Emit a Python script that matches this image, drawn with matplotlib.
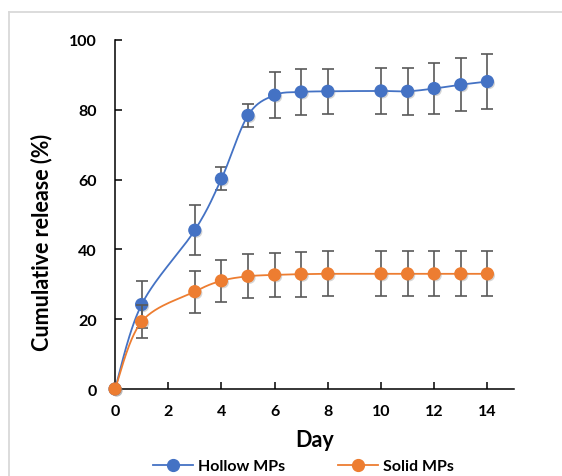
import numpy as np
import matplotlib
matplotlib.use("Agg")
import matplotlib.pyplot as plt
from matplotlib.lines import Line2D
import matplotlib.patheffects as pe

plt.rcParams['font.family'] = ['Lato', 'DejaVu Sans']
plt.rcParams['font.weight'] = 'bold'

days = [0, 1, 3, 4, 5, 6, 7, 8, 10, 11, 12, 13, 14]
hollow = [0, 24.2, 45.5, 60.2, 78.4, 84.2, 85.1, 85.3, 85.4, 85.3, 86.1, 87.2, 88.1]
hollow_err = [0, 6.8, 7.2, 3.3, 3.2, 6.5, 6.5, 6.5, 6.5, 6.7, 7.2, 7.5, 8.0]
solid = [0, 19.3, 27.9, 31.0, 32.3, 32.7, 32.9, 33.0, 33.0, 33.0, 33.0, 33.0, 33.0]
solid_err = [0, 4.7, 6.0, 6.1, 6.3, 6.3, 6.4, 6.4, 6.4, 6.4, 6.4, 6.4, 6.4]
series_names = ["Hollow MPs", "Solid MPs"]
colors = ["#4472C4", "#ED7D31"]
xticks = [0, 2, 4, 6, 8, 10, 12, 14]
yticks = [0, 20, 40, 60, 80, 100]


def smooth(x, y, n=30):
    x = np.asarray(x, float)
    y = np.asarray(y, float)
    P = np.column_stack([x, y])
    out = []
    for i in range(len(P) - 1):
        p0 = P[i - 1] if i > 0 else P[i]
        p1 = P[i]
        p2 = P[i + 1]
        p3 = P[i + 2] if i + 2 < len(P) else P[i + 1]
        c1 = p1 + (p2 - p0) / 6.0
        c2 = p2 - (p3 - p1) / 6.0
        t = np.linspace(0, 1, n)[:, None]
        seg = ((1 - t) ** 3) * p1 + 3 * ((1 - t) ** 2) * t * c1 + 3 * (1 - t) * t ** 2 * c2 + t ** 3 * p2
        out.append(seg if i == 0 else seg[1:])
    s = np.vstack(out)
    return s[:, 0], s[:, 1]


fig = plt.figure(figsize=(5.62, 4.77), dpi=100)
# light frame
fig.add_artist(Line2D([8.5 / 562, 8.5 / 562], [0, 1 - 12.5 / 477], color="#d9d9d9", lw=1.3, transform=fig.transFigure))
fig.add_artist(Line2D([8.5 / 562, 1], [1 - 12.5 / 477, 1 - 12.5 / 477], color="#d9d9d9", lw=1.3, transform=fig.transFigure))

ax = fig.add_axes([115 / 562, 1 - 390 / 477, (514 - 115) / 562, (390 - 41) / 477])

shadow = [pe.SimplePatchShadow(offset=(1.2, -1.2), shadow_rgbFace="#888888", alpha=0.35), pe.Normal()]

for yv, ev, c, name, z in [(hollow, hollow_err, colors[0], series_names[0], 3),
                           (solid, solid_err, colors[1], series_names[1], 4)]:
    ax.errorbar(days, yv, yerr=ev, fmt="none", ecolor="#595959", elinewidth=1.2,
                capsize=4.2, capthick=1.2, zorder=z, clip_on=False)
    sx, sy = smooth(days, yv)
    ax.plot(sx, sy, color=c, lw=1.3, zorder=z + 0.1, clip_on=False)
    ax.plot(days, yv, linestyle="none", marker="o", markersize=8.5, color=c,
            markeredgecolor=c, zorder=z + 0.2, clip_on=False, path_effects=shadow)

ax.set_xlim(0, 15)
ax.set_ylim(0, 100)
ax.set_xticks(xticks)
ax.set_yticks(yticks)
ax.spines['top'].set_visible(False)
ax.spines['right'].set_visible(False)
for s in ['left', 'bottom']:
    ax.spines[s].set_linewidth(1.1)
    ax.spines[s].set_color("black")
ax.tick_params(axis='both', direction='in', length=5, width=1.1, labelsize=11.5)
ax.tick_params(axis='y', pad=13)
ax.tick_params(axis='x', pad=11)
for lab in ax.get_xticklabels() + ax.get_yticklabels():
    lab.set_fontweight('bold')

ax.set_xlabel("Day", fontsize=15.5, fontweight='bold', labelpad=8)
ax.set_ylabel("Cumulative release (%)", fontsize=15.5, fontweight='bold')
ax.yaxis.set_label_coords(-0.158, 0.424)

handles = [Line2D([], [], color=c, lw=1.3, marker="o", markersize=8.5) for c in colors]
fig.legend(handles, series_names, loc="center", bbox_to_anchor=(0.54, 1 - 467 / 477),
           ncol=2, frameon=False, prop={'weight': 'bold', 'size': 11.5},
           handlelength=2.5, columnspacing=3.3, handletextpad=0.35)

fig.savefig("out.png", dpi=100)
